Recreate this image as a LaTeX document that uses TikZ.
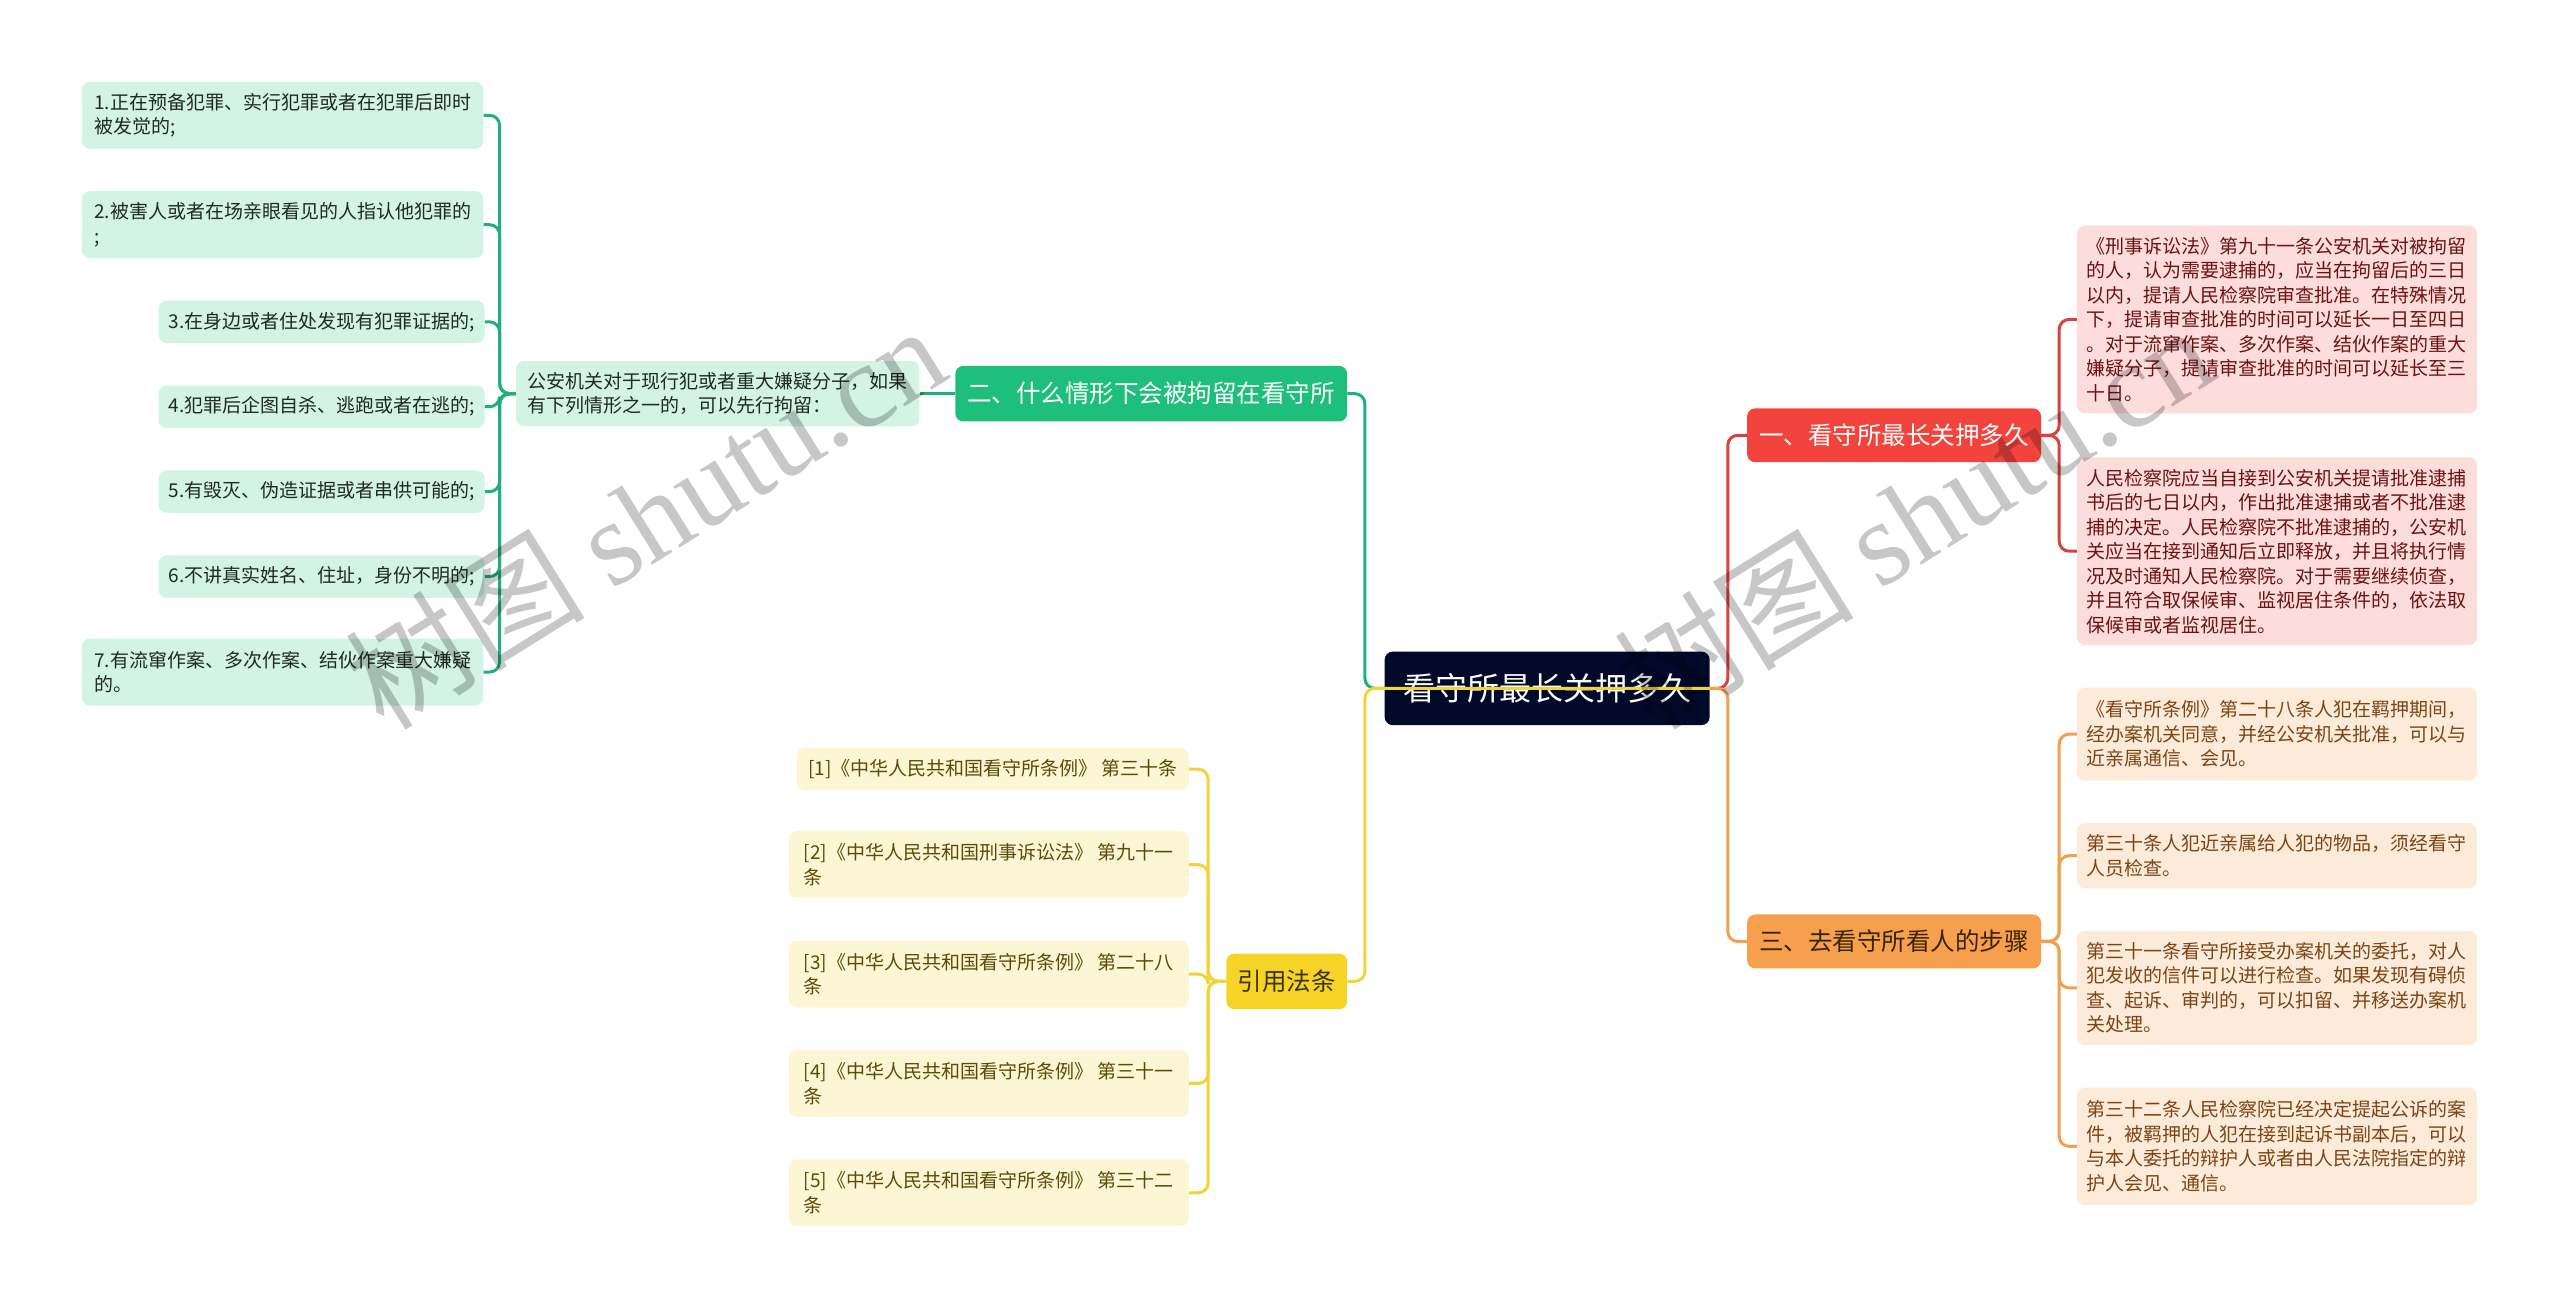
\documentclass[tikz,border=0pt]{standalone}
\usepackage{fontspec}
\setmainfont{Noto Sans CJK SC}
\newfontfamily\wmlatin{Liberation Serif}
\definecolor{rootbg}{HTML}{020A2B}
\definecolor{gmain}{HTML}{1DBF7B}
\definecolor{gline}{HTML}{20B07A}
\definecolor{glight}{HTML}{D3F3E5}
\definecolor{gtext}{HTML}{1E2A24}
\definecolor{rmain}{HTML}{F2443C}
\definecolor{rline}{HTML}{D94040}
\definecolor{rlight}{HTML}{FDDCDC}
\definecolor{rtext}{HTML}{6B1212}
\definecolor{omain}{HTML}{F6A04D}
\definecolor{oline}{HTML}{F0A050}
\definecolor{olight}{HTML}{FDEBDA}
\definecolor{otext}{HTML}{7A4515}
\definecolor{otextd}{HTML}{3A2205}
\definecolor{ymain}{HTML}{F5D327}
\definecolor{yline}{HTML}{F2D33A}
\definecolor{ylight}{HTML}{FDF6D4}
\definecolor{ytext}{HTML}{5C4A08}
\definecolor{ytextd}{HTML}{3D3300}
\def\pxu{1.6327pt}
\begin{document}
\begin{tikzpicture}[x=1.6327pt,y=-1.6327pt,
  box/.style={anchor=north west, rounded corners=8pt, align=left, inner xsep=10pt, inner ysep=4pt},
  leaf/.style={box, font=\fontsize{19pt}{24.5pt}\selectfont},
  branch/.style={box, align=center, font=\fontsize{24.5pt}{30pt}\selectfont},
  gleaf/.style={leaf, fill=glight, text=gtext},
  rleaf/.style={leaf, fill=rlight, text=rtext},
  oleaf/.style={leaf, fill=olight, text=otext},
  yleaf/.style={leaf, fill=ylight, text=ytext},
  conn/.style={line width=3pt, rounded corners=10pt},
  wm/.style={text=black, text opacity=0.22, font=\fontsize{120pt}{130pt}\selectfont, rotate=32}
]
\useasboundingbox (0,0) rectangle (1568,802);

% root
\node[box, align=center, fill=rootbg, text=white, minimum width=199*\pxu, minimum height=45*\pxu,
  font=\fontsize{32pt}{38pt}\selectfont] (root) at (848,399) {看守所最长关押多久};

% branches
\node[branch, fill=rmain, text=white, minimum width=180*\pxu, minimum height=33*\pxu] (rb) at (1070,250) {一、看守所最长关押多久};
\node[branch, fill=omain, text=otextd, minimum width=180*\pxu, minimum height=33*\pxu] (ob) at (1070,560) {三、去看守所看人的步骤};
\node[branch, fill=gmain, text=white, minimum width=240*\pxu, minimum height=34*\pxu] (gb) at (585,224) {二、什么情形下会被拘留在看守所};
\node[branch, fill=ymain, text=ytextd, minimum width=74*\pxu, minimum height=34*\pxu] (yb) at (751,584) {引用法条};

% red leaves
\node[rleaf, minimum width=245*\pxu, minimum height=115*\pxu] (r1) at (1272,138) {《刑事诉讼法》第九十一条公安机关对被拘留\\的人，认为需要逮捕的，应当在拘留后的三日\\以内，提请人民检察院审查批准。在特殊情况\\下，提请审查批准的时间可以延长一日至四日\\。对于流窜作案、多次作案、结伙作案的重大\\嫌疑分子，提请审查批准的时间可以延长至三\\十日。};
\node[rleaf, minimum width=245*\pxu, minimum height=115*\pxu] (r2) at (1272,280) {人民检察院应当自接到公安机关提请批准逮捕\\书后的七日以内，作出批准逮捕或者不批准逮\\捕的决定。人民检察院不批准逮捕的，公安机\\关应当在接到通知后立即释放，并且将执行情\\况及时通知人民检察院。对于需要继续侦查，\\并且符合取保候审、监视居住条件的，依法取\\保候审或者监视居住。};

% orange leaves
\node[oleaf, minimum width=245*\pxu, minimum height=57*\pxu] (o1) at (1272,421) {《看守所条例》第二十八条人犯在羁押期间，\\经办案机关同意，并经公安机关批准，可以与\\近亲属通信、会见。};
\node[oleaf, minimum width=245*\pxu, minimum height=40*\pxu] (o2) at (1272,504) {第三十条人犯近亲属给人犯的物品，须经看守\\人员检查。};
\node[oleaf, minimum width=245*\pxu, minimum height=70*\pxu] (o3) at (1272,570) {第三十一条看守所接受办案机关的委托，对人\\犯发收的信件可以进行检查。如果发现有碍侦\\查、起诉、审判的，可以扣留、并移送办案机\\关处理。};
\node[oleaf, minimum width=245*\pxu, minimum height=72*\pxu] (o4) at (1272,666) {第三十二条人民检察院已经决定提起公诉的案\\件，被羁押的人犯在接到起诉书副本后，可以\\与本人委托的辩护人或者由人民法院指定的辩\\护人会见、通信。};

% green sub and leaves
\node[gleaf, minimum width=247*\pxu, minimum height=40*\pxu] (gs) at (316,221) {公安机关对于现行犯或者重大嫌疑分子，如果\\有下列情形之一的，可以先行拘留：};
\node[gleaf, minimum width=246*\pxu, minimum height=41*\pxu] (g1) at (50,50) {1.正在预备犯罪、实行犯罪或者在犯罪后即时\\被发觉的;};
\node[gleaf, minimum width=246*\pxu, minimum height=41*\pxu] (g2) at (50,117) {2.被害人或者在场亲眼看见的人指认他犯罪的\\;};
\node[gleaf, minimum width=199*\pxu, minimum height=26*\pxu] (g3) at (97,184) {3.在身边或者住处发现有犯罪证据的;};
\node[gleaf, minimum width=199*\pxu, minimum height=26*\pxu] (g4) at (97,236) {4.犯罪后企图自杀、逃跑或者在逃的;};
\node[gleaf, minimum width=199*\pxu, minimum height=26*\pxu] (g5) at (97,288) {5.有毁灭、伪造证据或者串供可能的;};
\node[gleaf, minimum width=199*\pxu, minimum height=26*\pxu] (g6) at (97,340) {6.不讲真实姓名、住址，身份不明的;};
\node[gleaf, minimum width=246*\pxu, minimum height=41*\pxu] (g7) at (50,391) {7.有流窜作案、多次作案、结伙作案重大嫌疑\\的。};

% yellow leaves
\node[yleaf, minimum width=240*\pxu, minimum height=26*\pxu] (y1) at (488,458) {[1]《中华人民共和国看守所条例》 第三十条};
\node[yleaf, minimum width=245*\pxu, minimum height=41*\pxu] (y2) at (483,509) {[2]《中华人民共和国刑事诉讼法》 第九十一\\条};
\node[yleaf, minimum width=245*\pxu, minimum height=41*\pxu] (y3) at (483,576) {[3]《中华人民共和国看守所条例》 第二十八\\条};
\node[yleaf, minimum width=245*\pxu, minimum height=41*\pxu] (y4) at (483,643) {[4]《中华人民共和国看守所条例》 第三十一\\条};
\node[yleaf, minimum width=245*\pxu, minimum height=41*\pxu] (y5) at (483,710) {[5]《中华人民共和国看守所条例》 第三十二\\条};

% connectors
\draw[conn, draw=gline] (root.west) -- ++(-12,0) |- (gb.east);
\draw[conn, draw=gline] (gb.west) -- (gs.east);
\foreach \n in {g1,g2,g3,g4,g5,g6,g7}
  \draw[conn, draw=gline] (gs.west) -- ++(-10,0) |- (\n.east);

\draw[conn, draw=rline] (root.east) -- ++(11,0) |- (rb.west);
\foreach \n in {r1,r2}
  \draw[conn, draw=rline] (rb.east) -- ++(11,0) |- (\n.west);

\draw[conn, draw=oline] (root.east) -- ++(11,0) |- (ob.west);
\foreach \n in {o1,o2,o3,o4}
  \draw[conn, draw=oline] (ob.east) -- ++(11,0) |- (\n.west);

\draw[conn, draw=yline] (root.east) -- (root.west) -- ++(-12,0) |- (yb.east);
\foreach \n in {y1,y2,y3,y4,y5}
  \draw[conn, draw=yline] (yb.west) -- ++(-11,0) |- (\n.east);

% watermarks
\node[wm] (wm1) at (395,316) {树图 {\wmlatin shutu.cn}};
\node[wm] (wm2) at (1172,316) {树图 {\wmlatin shutu.cn}};
\end{tikzpicture}
\end{document}
